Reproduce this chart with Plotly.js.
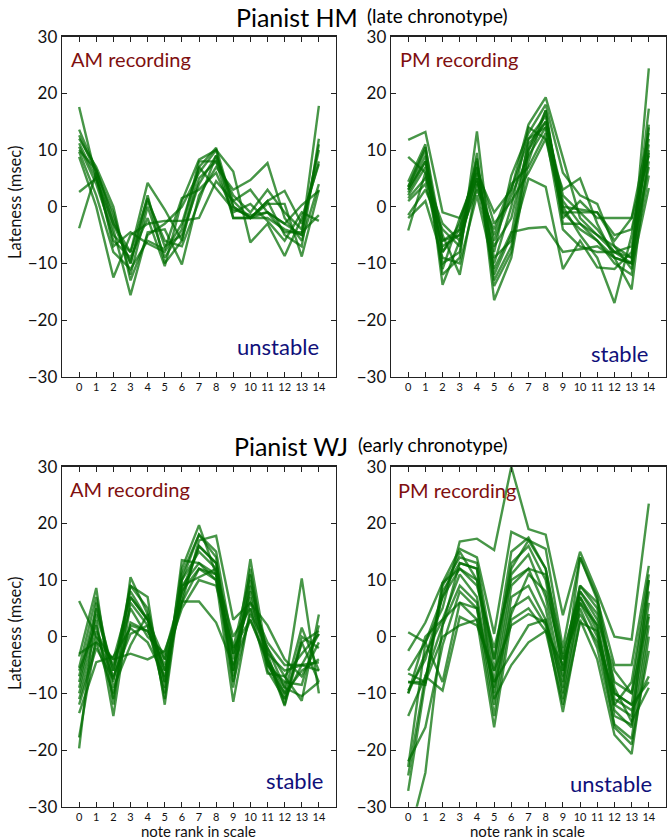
<!DOCTYPE html>
<html>
<head>
<meta charset="utf-8">
<script src="https://cdn.plot.ly/plotly-3.0.1.min.js"></script>
<style>html,body{margin:0;padding:0;background:#fff}#chart{width:670px;height:840px}</style>
</head>
<body>
<div id="chart"></div>
<script>
var noteRank = [0,1,2,3,4,5,6,7,8,9,10,11,12,13,14];
var xTickLabels = ["0","1","2","3","4","5","6","7","8","9","10","11","12","13","14"];
var yTickValues = [-30,-20,-10,0,10,20,30];

// Pianist HM, AM recording (one array per run)
var hmAmRuns = [
  [17.6, 5, -3, -8, 1.5, -7, -5, 4, 9, 1, -2, -1, -3, -5, 17.8],
  [13.6, 6.5, -2, -10, 2, -10, -6, 7, 10.4, 0, -2, 1, -5, -7, 12],
  [12.6, 6, -1, -12, 0, -9, -4, 8, 8, 2, -1, 3, -1, -4, 10],
  [12, 7, 0, -13, -5, -3, 0, 6, 10, 6.2, -6.3, -3, -8.7, -2, 7.5],
  [11.2, 5, -4, -15.6, -4.5, -4, -10.2, 2, 7, 3, 4.7, 7.7, -2, -6, 4],
  [10.6, 4, -5, -8, 4.2, -0.5, -6, 5, 8, -2, -2, 0.5, 0.5, -8.8, 3],
  [9.7, 2, -8, -11, -6, -7.5, 1.5, 3, 6, -1, 0.5, -2.5, -6, -1, -2.5],
  [8.8, 0, -12.5, -5, -3, -2.5, -2.5, -2, 4.5, 1, 3, -1, -3, 0.3, 2.8],
  [2.6, 5, -6, -9, -2, -10.5, 1, 8.3, 10, -2, -2, 1, 2.8, -3, 8],
  [-3.8, 6, -7, -4.5, -6.5, -8, -3, 7, 3.2, -0.5, -1.5, -1, -4.5, -4.5, -1.5],
  [10, 6.5, -3, -10, 1, -6, -7, 1, 9, 0, -2, -2, -4, -5, 11]
];
// Pianist HM, PM recording
var hmPmRuns = [
  [11.8, 13.2, -1, -2, 6, -1, 3, 14.5, 19.3, 8.5, -2, -5, -8, -10, 24.4],
  [8.8, 6, -6, -4, 5, -8, 5.5, 13, 18, 6, 2, 0.5, -7, -9, 17.3],
  [4.4, 11, -10, -8, 9.5, -16.5, -9, 8, 17, -1, -4, -6, -10, -12, 14.5],
  [3.5, 10, -13.8, -6, 8, -14, -8, 10, 15, 2, -1, -1, -6, -2, 13],
  [3, 9, -12, -9, 13.3, -12, -5, 12, 16, 0, -5, -9, -17, -5, 12],
  [2.5, 8, -5, -12, 4, -10, 0, 14, 12, 3, 5, -3, -9, -14.6, 10],
  [2, 7, -8, -3, 7, -6, 2, 9, 14, -2, 1, -2, -2, -2, 9],
  [1, 4, -7, -5, 3, -4, 4, 7, 13, -4, -7, -8, -8, -9, 8],
  [-1.5, 3, -4, -7, 6, -9, -6, 5, 3.5, -11, -6, -10.7, -11, -8, 7],
  [-2, 1, -9, -10, 2, -11, -4.5, -3.8, -3.6, -8, -7.5, -7, -9, -10, 5.5],
  [-4.2, 6, -11, -2, 5, -7, -2, 11, 15, 1, -3, -5, -7, -11, 3.3],
  [3.5, 10.5, -6, -5, 7, -3, 1, 6, 12, -1, -1, -4, -8, -7, 11],
  [3, 8, -8, -4, 8.5, -13, -7, 10, 17, -3, -3, -6, -9, -10, 14],
  [1.5, 5, -3, -6, 4.5, -5, 3, 12, 14, 0, -0.5, -1, -5, -4, 9.5]
];
// Pianist WJ, AM recording
var wjAmRuns = [
  [6.3, 0, -4, 7, 3, -4, 8, 16, 13, -3, 8, -3, -6, -5, -4.5],
  [-3.5, 8.6, -12, 10.5, 4, -8, 12, 19.7, 11, -6, 13.7, -4, -12.2, -1, -8],
  [-5.5, 7, -8, 9, 7, -12, 10, 18, 15, -2, 11, -5, -10, 1.6, -6],
  [-7, 5, -6, 8, 3, -6, 6, 17, 17.8, 3, 6, 2, -4, -7, -1],
  [-9, 3, -14, 6, 2, -10, 13.5, 13, 10, -11.5, 5, -6.5, -7, -11.3, 3.9],
  [-10, 1, -5, 5, 0, -3, 8, 12, 11, -8, 4, -2, -9, 10.3, -10],
  [-11, -1, -10, 2.5, 1, -5, 6.2, 6.2, 2.5, -5, 3, -4.5, -11, -5, 0.5],
  [-13.5, -4.5, -3.5, 1.5, -1, -7, 9, 10.5, 12, -4, 7, -5, -8, -8.5, 2],
  [-17.8, 0, -7, 0.5, 2, -9, 10, 15, 12, -7, 9, -3, -12, 0, -2],
  [-19.7, 6, -9, -1.5, 4, -11, 11, 18, 14, -9, 12, -6, -11, -1, 1],
  [-3, -1, -4, -3, -4, -2.5, 6, 12, 10, -3, 6, -1, -5, -5, -6],
  [-6, 2, -11, 7, 3, -6, 7, 16, 13, -6, 10, -4, -9, -10.5, -8],
  [-8, 4, -6, 9, 5, -8, 9, 13, 11, 0, 5, -2, -7, -3, 0.5],
  [-12, -2, -7.5, 2, 1, -4, 5, 10, 9, -2, 3, -4, -10, -6, -4]
];
// Pianist WJ, PM recording
var wjPmRuns = [
  [0.8, -1, 5, 16.8, 17.3, 15.3, 30, 19, 18, 3.8, 15, 7.8, 0, -0.5, 23.5],
  [-2.5, 2.5, 9.5, 15.5, 14, 0.5, 18.5, 17, 15.5, -2, 14, 6.5, -5, -5, 12.5],
  [-6.5, -8, 9, 14, 13, -4, 15, 17.5, 12, -4, 9, 5, -8, -10, 10],
  [-8, -8.5, 8, 13, 12, -6, 13, 16, 10, -6, 8, 4, -10, -12, 8],
  [-9.5, -4, 7, 12, 10, -8, 11, 14.5, 7, -8, 7, 2, -12, -14, 6],
  [-10, 0, 3, 11, 7, -10, 9, 12, 5, -10, 6, 0, -14, -15.5, 3.5],
  [-14, -7, 2, 9, 6, -12, 7, 9, 3, -11, 5, -2, -15.5, -18, 2],
  [-22, -16, -1.5, 8, 5, -14, 5, 7, 2, -13.3, 3, -4, -17.3, -20.7, 0],
  [-23, -1, -8, 6, 3, -16, 3, 5, 1, -12, 2.5, 1, -16, -19, -2.5],
  [-24.5, -7, -9.5, 3.5, 2, -6, 2, 4, 2.5, -7, 9, 6, -11, -13, -7],
  [-27.2, -8, 0, 2, 3, -8, -3, 2, 3, -9, 14, 7, -9, -15, -9],
  [-36, -24, 2, 13, 12, -11, -5, -1, 1, -5, 6, 2, -13, -16, 10],
  [-6, -1, 7, 15, 10, -4, 12, 17, 12, -3, 8, 3, -6, -10, 4],
  [-8, -8, 9.5, 12, 9, -2, 10, 12, 11, -6, 7, 1, -12, -8, 11],
  [-10, -3, 3, 6, 5, -9, 4, 11, 8, -4, 4, -1, -10, -12, -8]
];

var panelRuns = [hmAmRuns, hmPmRuns, wjAmRuns, wjPmRuns];
var axisIds = [["x","y"],["x2","y2"],["x3","y3"],["x4","y4"]];

var FONT = "Lato, 'Open Sans', 'DejaVu Sans', sans-serif";
var lineColor = "rgba(0,110,0,0.72)";

var traces = [];
panelRuns.forEach(function(runs, p){
  runs.forEach(function(run){
    traces.push({
      type: "scatter", mode: "lines",
      x: noteRank, y: run,
      xaxis: axisIds[p][0], yaxis: axisIds[p][1],
      line: {color: lineColor, width: 2.4},
      hoverinfo: "skip", showlegend: false
    });
  });
});

var W = 670, H = 840;
function px(v){ return v / W; }
function py(v){ return 1 - v / H; }

var colL = [px(62), px(336)];
var colR = [px(391), px(666)];
var rowT = [py(376.7), py(36.7)];
var rowB = [py(806.7), py(466.7)];

function xAxis(domain, anchor){
  return {
    domain: domain, anchor: anchor, range: [-1, 15],
    tickmode: "array", tickvals: noteRank, ticktext: xTickLabels,
    ticks: "inside", ticklen: 5, tickwidth: 1, tickcolor: "#222",
    mirror: "allticks", showline: true, linecolor: "#222", linewidth: 1.3,
    showgrid: false, zeroline: false, fixedrange: true,
    tickfont: {family: FONT, size: 11, color: "#111"}
  };
}
function yAxis(domain, anchor){
  return {
    domain: domain, anchor: anchor, range: [-30, 30],
    tickmode: "array", tickvals: yTickValues,
    ticks: "inside", ticklen: 5, tickwidth: 1, tickcolor: "#222",
    mirror: "allticks", showline: true, linecolor: "#222", linewidth: 1.3,
    showgrid: false, zeroline: false, fixedrange: true,
    tickfont: {family: FONT, size: 17, color: "#111"}
  };
}

var maroon = "#7f0f0f";
var navy = "#10107a";

function ann(text, x, y, size, color, xanchor, yanchor, extra){
  var a = {text: text, xref: "paper", yref: "paper", x: px(x), y: py(y),
    xanchor: xanchor, yanchor: yanchor, showarrow: false, borderpad: 0,
    font: {family: FONT, size: size, color: color}};
  if (extra) for (var k in extra) a[k] = extra[k];
  return a;
}

var annotations = [
  ann("Pianist HM", 235, 16.5, 25, "#000", "left", "middle"),
  ann("(late chronotype)", 366, 15, 19, "#000", "left", "middle"),
  ann("Pianist WJ", 233, 445.5, 25, "#000", "left", "middle"),
  ann("(early chronotype)", 357, 444.5, 19, "#000", "left", "middle"),
  ann("AM recording", 70, 59, 20, maroon, "left", "middle"),
  ann("PM recording", 399, 59, 20, maroon, "left", "middle"),
  ann("AM recording", 69, 489, 20, maroon, "left", "middle"),
  ann("PM recording", 397, 490, 20, maroon, "left", "middle"),
  ann("unstable", 320, 361, 22, navy, "right", "bottom"),
  ann("stable", 649, 368, 22, navy, "right", "bottom"),
  ann("stable", 324, 795, 22, navy, "right", "bottom"),
  ann("unstable", 653, 798, 22, navy, "right", "bottom"),
  ann("Lateness (msec)", 15, 203, 16.5, "#111", "center", "middle", {textangle: -90}),
  ann("Lateness (msec)", 15, 634, 16.5, "#111", "center", "middle", {textangle: -90}),
  ann("note rank in scale", 198, 831, 15, "#111", "center", "middle"),
  ann("note rank in scale", 527, 831, 15, "#111", "center", "middle")
];

var layout = {
  width: W, height: H,
  margin: {l: 0, r: 0, t: 0, b: 0},
  paper_bgcolor: "#fff", plot_bgcolor: "#fff",
  showlegend: false,
  font: {family: FONT},
  xaxis: xAxis(colL, "y"), yaxis: yAxis(rowT, "x"),
  xaxis2: xAxis(colR, "y2"), yaxis2: yAxis(rowT, "x2"),
  xaxis3: xAxis(colL, "y3"), yaxis3: yAxis(rowB, "x3"),
  xaxis4: xAxis(colR, "y4"), yaxis4: yAxis(rowB, "x4"),
  annotations: annotations
};

Plotly.newPlot("chart", traces, layout, {displayModeBar: false, staticPlot: true});
</script>
</body>
</html>
